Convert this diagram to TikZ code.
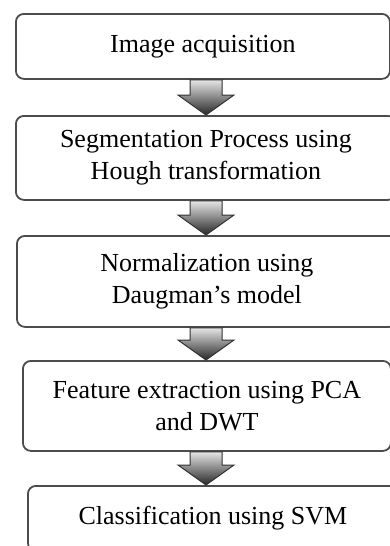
\documentclass[tikz,border=0pt]{standalone}
\usepackage{fontspec}
\setmainfont{Liberation Serif}
\usetikzlibrary{positioning,calc}

\begin{document}
\begin{tikzpicture}[
  x=0.5pt, y=-0.5pt,
  font=\fontsize{13}{16}\selectfont,
  blk/.style={draw=black!70, line width=0.9pt, rounded corners=4pt, anchor=north west, align=center, inner sep=0pt},
  arr/.style={draw=black!80, line width=0.5pt, top color=black!10, bottom color=black!85}
]
\useasboundingbox (0,0) rectangle (390,546);
\clip (0,0) rectangle (390,546);

% Processing stages
\node[blk, minimum width=187pt, minimum height=32.5pt] (acq) at (15,13) {Image acquisition};
\node[blk, minimum width=190pt, minimum height=42pt] (seg) at (15,115) {Segmentation Process using\\Hough transformation};
\node[blk, minimum width=190pt, minimum height=45.5pt] (norm) at (16,235) {Normalization using\\Daugman's model};
\node[blk, minimum width=184pt, minimum height=45pt] (feat) at (22,360) {Feature extraction using PCA\\and DWT};
\node[blk, minimum width=185pt, minimum height=32.5pt] (cls) at (27,485) {Classification using SVM};

% Block arrows between stages
\coordinate (axis) at (206,0);
\foreach \a/\b in {acq/seg, seg/norm, norm/feat, feat/cls}{
  \coordinate (top) at (\a.south -| axis);
  \coordinate (tip) at (\b.north -| axis);
  \path[arr] ($(top)+(-16,0)$) -- ($(tip)+(-16,-20)$) -- ($(tip)+(-28,-20)$) -- (tip)
    -- ($(tip)+(28,-20)$) -- ($(tip)+(16,-20)$) -- ($(top)+(16,0)$) -- cycle;
}

\end{tikzpicture}
\end{document}
